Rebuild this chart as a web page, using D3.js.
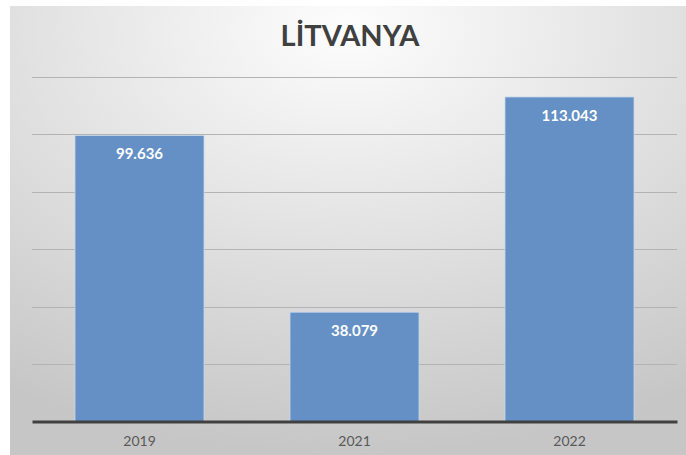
<!DOCTYPE html>
<html>
<head>
<meta charset="utf-8">
<script src="https://cdn.jsdelivr.net/npm/d3@7"></script>
<style>
  body { margin: 0; background: #fff; }
  text { font-family: Lato, "Open Sans", sans-serif; }
</style>
</head>
<body>
<div id="chart"></div>
<script>
const title = "LİTVANYA"
const years = ["2019", "2021", "2022"]
const values = [99.636, 38.079, 113.043]
const yTicks = [0, 20, 40, 60, 80, 100, 120]

const width = 686
const height = 455
const margin = {top: 77, bottom: 33, left: 32, right: 9}

const svg = d3.select("#chart").append("svg").attr("width", width).attr("height", height)

// background panel
const defs = svg.append("defs")
const grad = defs.append("radialGradient").attr("id", "bg")
    .attr("cx", "50%").attr("cy", "5%").attr("r", "95%")
grad.append("stop").attr("offset", "0%").attr("stop-color", "#fdfdfd")
grad.append("stop").attr("offset", "100%").attr("stop-color", "#c6c6c6")
svg.append("rect").attr("x", 10).attr("y", 6).attr("width", width - 10).attr("height", height - 6)
    .attr("fill", "url(#bg)")

svg.append("text").attr("x", 350).attr("y", 46)
    .attr("text-anchor", "middle")
    .attr("font-size", 29).attr("font-weight", "bold").attr("fill", "#404040")
    .text(title)

const innerW = width - margin.left - margin.right
const innerH = height - margin.top - margin.bottom - 0.5

let x = d3.scaleBand().domain(years).range([0, innerW]).paddingInner(0.4).paddingOuter(0.2)
let y = d3.scaleLinear().domain([0, 120]).range([innerH, 0])

const g = svg.append("g").attr("transform", `translate(${margin.left}, ${margin.top})`)

g.append("g").selectAll("line").data(yTicks.slice(1)).join("line")
    .attr("x1", 0).attr("x2", innerW)
    .attr("y1", d => Math.round(y(d)) + 0.5).attr("y2", d => Math.round(y(d)) + 0.5)
    .attr("stroke", "#b3b3b3").attr("stroke-width", 1)

g.append("g").selectAll("rect").data(values).join("rect")
    .attr("x", (d, i) => x(years[i]))
    .attr("y", d => y(d))
    .attr("width", x.bandwidth())
    .attr("height", d => innerH - y(d))
    .attr("fill", "#6590c5")
    .attr("stroke", "#c9d8ec").attr("stroke-width", 0.8)

g.append("g").selectAll("text").data(values).join("text")
    .attr("x", (d, i) => x(years[i]) + x.bandwidth() / 2)
    .attr("y", d => y(d) + 24)
    .attr("text-anchor", "middle")
    .attr("font-size", 15).attr("font-weight", "bold").attr("fill", "#fff")
    .text(d => d3.format(".3f")(d))

// x axis
const xAxisGroup = g.append("g").attr("transform", `translate(0, ${innerH})`)
xAxisGroup.call(d3.axisBottom(x).tickSize(0).tickPadding(15))
xAxisGroup.select(".domain").attr("stroke", "#404040").attr("stroke-width", 3)
xAxisGroup.selectAll("text").attr("font-size", 14).attr("fill", "#595959")
    .style("font-family", "Lato, sans-serif")
</script>
</body>
</html>
